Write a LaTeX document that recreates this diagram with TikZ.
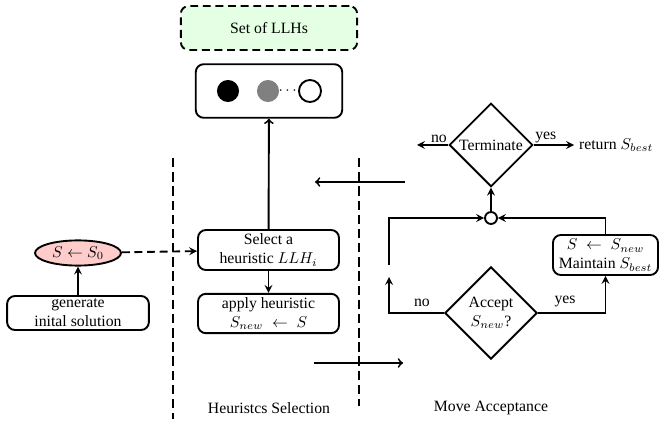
\documentclass[tikz,border=0pt]{standalone}
\usepackage{fontspec}
\setmainfont{Liberation Serif}
\usepackage{amsmath,amssymb}
\usepackage{tikz}
\usetikzlibrary{shapes.geometric}

\begin{document}
\begin{tikzpicture}[x=0.635pt,y=-0.635pt,
    box/.style={draw,very thick,rounded corners=5pt,align=center,inner sep=1pt},
    dec/.style={draw,very thick,diamond,aspect=1,inner sep=0pt,align=center},
    ball/.style={circle,minimum size=14pt,inner sep=0pt},
    sep/.style={very thick,dash pattern=on 6pt off 3pt}]
  \useasboundingbox (0,0) rectangle (659,424);
  \node[box,dash pattern=on 5pt off 3pt,fill=green!10,minimum width=112pt,minimum height=28pt] (llhs) at (269,28) {Set of LLHs};
  \node[box,minimum width=93pt,minimum height=34pt] (pool) at (269,91) {};
  \node[ball,fill=black] (h1) at (228,91) {};
  \node[ball,fill=gray] (h2) at (268,91) {};
  \node[inner sep=0pt] (dots) at (289,91) {$\cdots$};
  \node[ball,draw,very thick] (h3) at (310,91) {};
  \node[draw,very thick,ellipse,fill=red!20,minimum width=54.6pt,minimum height=16pt,inner sep=0pt] (init) at (78,253) {$S \leftarrow S_0$};
  \node[box,minimum width=90pt,minimum height=21.6pt] (gen) at (78,313) {generate\\inital solution};
  \node[box,minimum width=89.5pt,minimum height=25.4pt] (sel) at (268.5,250) {Select a\\heuristic $LLH_i$};
  \node[box,minimum width=89.5pt,minimum height=25pt] (app) at (268.5,313.5) {apply heuristic\\$S_{new} \;\leftarrow\; S$};
  \node[dec,minimum width=53pt,minimum height=53pt] (term) at (491,145) {Terminate};
  \node[dec,minimum width=58.5pt,minimum height=58.5pt] (acc) at (491,313) {Accept\\$S_{new}$?};
  \node[box,minimum width=66.7pt,minimum height=25.4pt] (upd) at (605.5,255) {$S \;\leftarrow\; S_{new}$\\Maintain $S_{best}$};
  \node[circle,draw,very thick,minimum size=7.6pt,inner sep=0pt] (jn) at (491,218) {};
  \node[right,inner sep=3pt] (ret) at (574,145) {return $S_{best}$};
  \node (hs) at (269,408) {Heuristcs Selection};
  \node (ma) at (491,408) {Move Acceptance};
  \coordinate (stop) at (417,145);
  \coordinate (gapb) at (389,277);
  \coordinate (gapt) at (389,265);
  \coordinate (backr) at (405,182);
  \coordinate (backl) at (315,182);
  \coordinate (fwdl) at (314,363);
  \coordinate (fwdr) at (403,363);
  \coordinate (lsept) at (173,158);
  \coordinate (lsepb) at (173,419);
  \coordinate (rsept) at (359,158);
  \coordinate (rsepb) at (359,406);

  \draw[sep] (lsept) -- (lsepb);
  \draw[sep] (rsept) -- (rsepb);
  \draw[very thick,-stealth] (gen) -- (init);
  \draw[very thick,dash pattern=on 5pt off 3pt,-stealth] (init) -- (sel);
  \draw[very thick,-stealth] (sel) -- (app);
  \draw[very thick,->] (sel) -- (pool);
  \draw[very thick,->] (backr) -- (backl);
  \draw[very thick,->] (fwdl) -- (fwdr);
  \draw[very thick,-stealth] (jn) -- (term);
  \draw[very thick,-stealth] (term.west) -- node[above,pos=0.3,inner sep=1pt] {no} (stop);
  \draw[very thick,-stealth] (term.east) -- node[above,pos=0.3,inner sep=1pt] {yes} (ret);
  \draw[very thick,-stealth] (acc.west) -| node[above,pos=0.2] {no} (gapb);
  \draw[very thick,-stealth] (gapt) |- (jn);
  \draw[very thick,-stealth] (acc.east) -| node[above,pos=0.2] {yes} (upd);
  \draw[very thick,-stealth] (upd) |- (jn);
\end{tikzpicture}
\end{document}
